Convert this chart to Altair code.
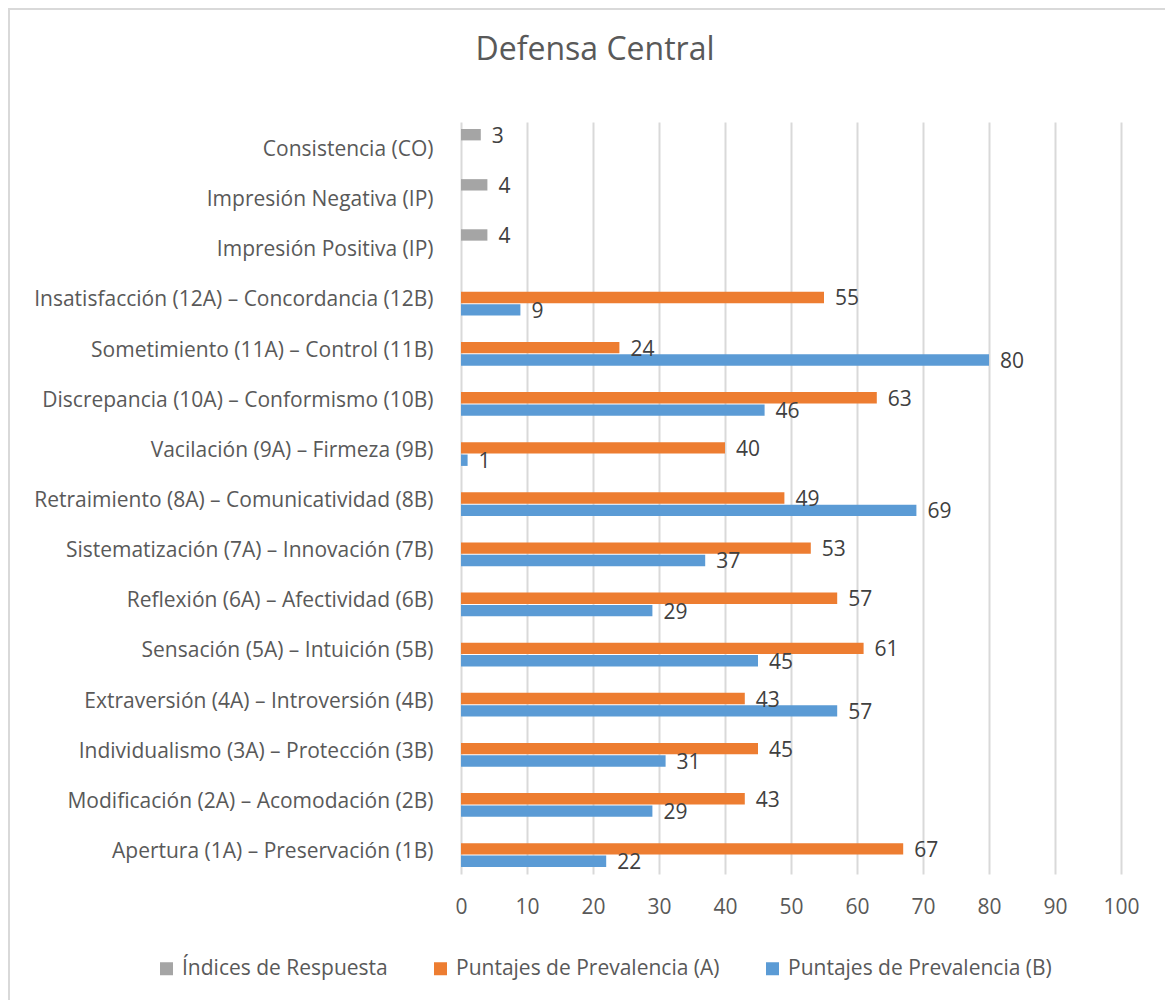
import altair as alt
import pandas as pd

title_text = "Defensa Central"
categories = [
    "Consistencia (CO)",
    "Impresión Negativa (IP)",
    "Impresión Positiva (IP)",
    "Insatisfacción (12A) – Concordancia (12B)",
    "Sometimiento  (11A) – Control (11B)",
    "Discrepancia (10A) – Conformismo (10B)",
    "Vacilación (9A) – Firmeza (9B)",
    "Retraimiento (8A) – Comunicatividad (8B)",
    "Sistematización (7A) – Innovación (7B)",
    "Reflexión (6A) – Afectividad (6B)",
    "Sensación (5A) – Intuición (5B)",
    "Extraversión (4A) – Introversión (4B)",
    "Individualismo (3A) – Protección (3B)",
    "Modificación (2A) – Acomodación (2B)",
    "Apertura (1A) – Preservación (1B)",
]
series_names = ["Índices de Respuesta", "Puntajes de Prevalencia (A)", "Puntajes de Prevalencia (B)"]
indices = [3, 4, 4, None, None, None, None, None, None, None, None, None, None, None, None]
prev_a = [None, None, None, 55, 24, 63, 40, 49, 53, 57, 61, 43, 45, 43, 67]
prev_b = [None, None, None, 9, 80, 46, 1, 69, 37, 29, 45, 57, 31, 29, 22]
colors = ["#A5A5A5", "#ED7D31", "#5B9BD5"]
x_ticks = list(range(0, 101, 10))

rows = []
for i, cat in enumerate(categories):
    for s, vals in zip(series_names, [indices, prev_a, prev_b]):
        if vals[i] is not None:
            rows.append({"cat": cat, "serie": s, "valor": vals[i]})
df = pd.DataFrame(rows)

FONT = "Open Sans"
FS = 21

y_enc = alt.Y("cat:N", sort=categories, title=None,
              scale=alt.Scale(paddingInner=0.28, paddingOuter=0.14),
              axis=alt.Axis(labelFontSize=FS, labelColor="#595959", labelFont=FONT,
                            labelPadding=28, ticks=False, domain=False, labelLimit=500,
                            labelOffset=3))
yoff = alt.YOffset("serie:N", sort=series_names, scale=alt.Scale(domain=series_names, paddingInner=0.08))
x_enc = alt.X("valor:Q", title=None,
              scale=alt.Scale(domain=[0, 100], nice=False),
              axis=alt.Axis(values=x_ticks, labelFontSize=FS, labelColor="#595959", labelFont=FONT,
                            labelPadding=22, ticks=False, domain=False, labelFlush=False,
                            grid=True, gridColor="#D9D9D9", gridWidth=2))

bars = alt.Chart(df).mark_bar().encode(
    y=y_enc, yOffset=yoff, x=x_enc,
    color=alt.Color("serie:N", sort=series_names,
                    scale=alt.Scale(domain=series_names, range=colors),
                    legend=alt.Legend(title=None, orient="none", direction="horizontal",
                                      legendX=-305, legendY=836, labelLimit=500,
                                      labelFontSize=FS, labelColor="#595959", labelFont=FONT,
                                      symbolType="square", symbolSize=169, symbolStrokeWidth=0,
                                      labelOffset=5, columnPadding=42)),
)

labels = alt.Chart(df).mark_text(align="left", baseline="middle", dx=11, dy=2,
                                 fontSize=FS, color="#404040", font=FONT).encode(
    y=alt.Y("cat:N", sort=categories), yOffset=yoff, x="valor:Q", text="valor:Q"
)

one = pd.DataFrame({"t": [title_text]})

frame_left = alt.Chart(one).mark_rule(stroke="#D9D9D9", strokeWidth=2).encode(
    x=alt.value(-452), y=alt.value(-114), y2=alt.value(900),
)
frame_top = alt.Chart(one).mark_rule(stroke="#D9D9D9", strokeWidth=2).encode(
    x=alt.value(-453), x2=alt.value(720), y=alt.value(-113),
)

title = alt.Chart(one).mark_text(
    align="center", baseline="middle", fontSize=32, font=FONT, color="#595959"
).encode(
    x=alt.value(134), y=alt.value(-72), text="t:N"
)

chart = (frame_left + frame_top + bars + labels + title).properties(
    width=660, height=752,
    autosize=alt.AutoSizeParams(type="none"),
    padding={"left": 453, "top": 114, "right": 44, "bottom": 126},
    background="white",
).configure_view(stroke=None)

chart.save("out.html", embed_options={"renderer": "svg", "actions": False})
